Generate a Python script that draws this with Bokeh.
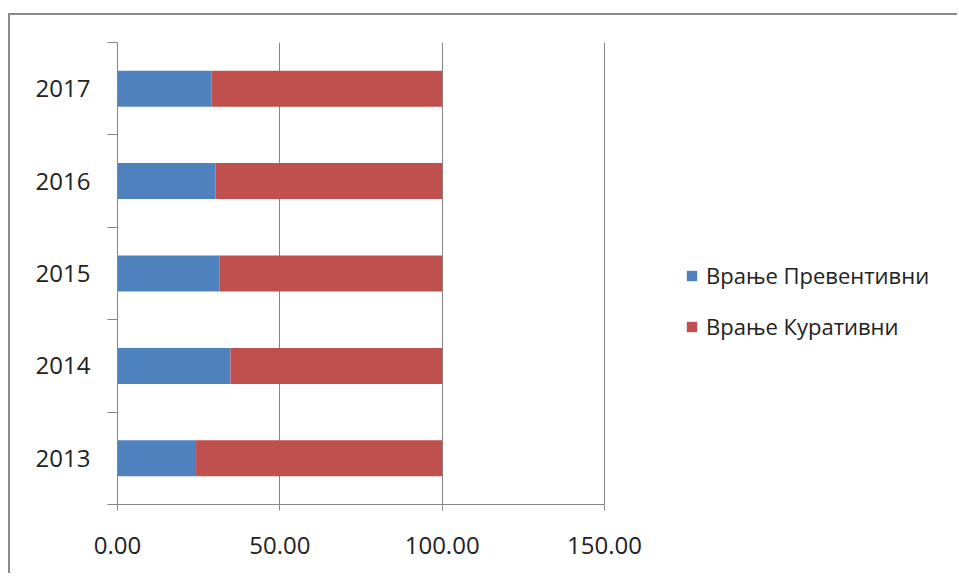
from bokeh.plotting import figure
from bokeh.models import (ColumnDataSource, Range1d, FixedTicker, NumeralTickFormatter,
                          Legend)
from bokeh.embed import file_html
from bokeh.resources import INLINE

# Share of preventive vs curative visits (percent), Vranje
years = ["2013", "2014", "2015", "2016", "2017"]
preventive = [24.2, 34.8, 31.4, 30.2, 28.9]
curative = [75.8, 65.2, 68.6, 69.8, 71.1]
series_names = ["Врање Превентивни", "Врање Куративни"]
x_ticks = [0, 50, 100, 150]

FONT = "Open Sans"
GRAY = "#868686"

source = ColumnDataSource(data=dict(
    y=[i + 0.5 for i in range(len(years))],
    prev=preventive,
    cur=curative,
))

p = figure(width=949, height=560, output_backend="svg", toolbar_location=None,
           x_range=Range1d(0, 842 * 150 / 487), y_range=Range1d(0, len(years)),
           min_border_left=107, min_border_right=0, min_border_top=27,
           min_border_bottom=71)
p.outline_line_color = None
p.background_fill_color = "white"
p.border_fill_color = "white"
# chart area border (top and left edges) drawn as an offset shadow
p.styles = {"margin-left": "10px", "margin-top": "15px",
            "box-shadow": "-2px -2px 0 0 #8a8a8a"}

renderers = p.hbar_stack(["prev", "cur"], y="y", height=0.39, source=source,
                         color=["#4F81BD", "#C0504D"], line_color=None)

# x axis
xa = p.xaxis[0]
xa.ticker = FixedTicker(ticks=x_ticks)
xa.formatter = NumeralTickFormatter(format="0.00")
xa.bounds = (0, 150)
xa.axis_line_color = GRAY
xa.major_tick_line_color = GRAY
xa.major_tick_out = 6
xa.major_tick_in = 0
xa.minor_tick_line_color = None
xa.major_label_text_font = FONT
xa.major_label_text_font_size = "24px"
xa.major_label_text_color = "#222222"
xa.major_label_standoff = 26

# y axis: labels at category centres, ticks on category boundaries
ya = p.yaxis[0]
ya.ticker = FixedTicker(ticks=[i + 0.5 for i in range(len(years))],
                        minor_ticks=list(range(len(years) + 1)))
ya.major_label_overrides = {i + 0.5: y for i, y in enumerate(years)}
ya.axis_line_color = GRAY
ya.major_tick_line_color = None
ya.major_tick_out = 0
ya.major_tick_in = 0
ya.minor_tick_line_color = GRAY
ya.minor_tick_out = 10
ya.minor_tick_in = 0
ya.major_label_text_font = FONT
ya.major_label_text_font_size = "24px"
ya.major_label_text_color = "#222222"
ya.major_label_standoff = 17

p.xgrid.ticker = FixedTicker(ticks=x_ticks)
p.xgrid.grid_line_color = GRAY
p.ygrid.grid_line_color = None

legend = Legend(items=[(series_names[0], [renderers[0]]), (series_names[1], [renderers[1]])],
                location=(568, 163), orientation="vertical")
legend.border_line_color = None
legend.background_fill_alpha = 0
legend.padding = 0
legend.margin = 0
legend.glyph_width = 13
legend.glyph_height = 13
legend.label_height = 22
legend.spacing = 21
legend.label_standoff = 8
legend.label_text_font = FONT
legend.label_text_font_size = "22px"
legend.label_text_color = "#222222"
p.add_layout(legend)

open("out.html", "w").write(file_html(p, INLINE))
